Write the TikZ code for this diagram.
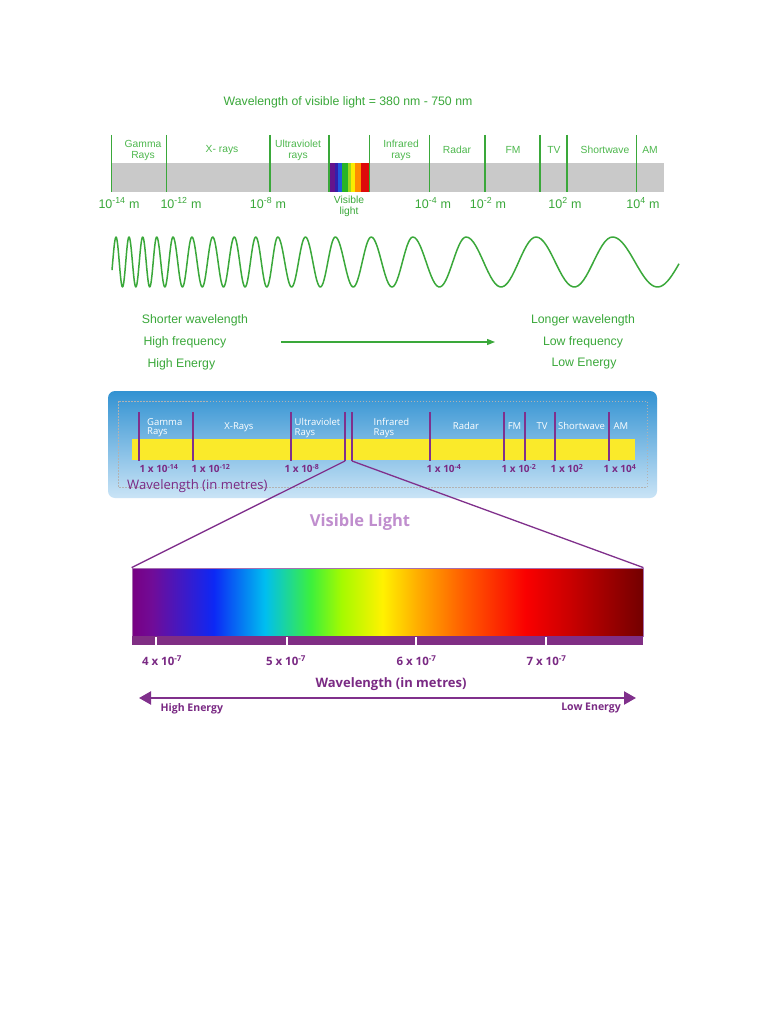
\documentclass[tikz,border=0pt]{standalone}
\usepackage{fontspec}
\setmainfont{Liberation Sans}
\newfontfamily\panelfont{Open Sans}
\usetikzlibrary{arrows.meta}

\definecolor{emgreen}{RGB}{58,168,58}
\definecolor{emlabel}{RGB}{78,184,78}
\definecolor{barback}{RGB}{201,201,201}
\definecolor{violetline}{RGB}{128,48,140}
\definecolor{violettext}{RGB}{122,42,132}
\definecolor{lilac}{RGB}{192,142,206}
\definecolor{paneltop}{RGB}{50,146,210}
\definecolor{panelbot}{RGB}{202,228,246}
\definecolor{bandyellow}{RGB}{250,234,42}
\definecolor{stripcol}{RGB}{128,46,132}
% visible strip colours
\definecolor{vsa}{RGB}{100,20,140}
\definecolor{vsb}{RGB}{52,30,170}
\definecolor{vsc}{RGB}{30,90,222}
\definecolor{vsd}{RGB}{40,180,40}
\definecolor{vse}{RGB}{160,214,30}
\definecolor{vsf}{RGB}{250,236,0}
\definecolor{vsg}{RGB}{255,140,0}
\definecolor{vsh}{RGB}{222,10,10}
% spectrum stops
\definecolor{spa}{RGB}{120,0,130}
\definecolor{spb}{RGB}{112,12,152}
\definecolor{spc}{RGB}{12,40,245}
\definecolor{spd}{RGB}{0,190,240}
\definecolor{spe}{RGB}{60,240,60}
\definecolor{spf}{RGB}{165,250,0}
\definecolor{spg}{RGB}{255,242,0}
\definecolor{sph}{RGB}{255,172,0}
\definecolor{spi}{RGB}{255,92,0}
\definecolor{spj}{RGB}{250,0,0}
\definecolor{spk}{RGB}{200,0,0}
\definecolor{spl}{RGB}{115,0,0}

\pgfdeclarehorizontalshading{spectrum}{100bp}{color(0bp)=(spa); color(25bp)=(spa);
  color(27bp)=(spb); color(33bp)=(spc); color(38bp)=(spd); color(42.5bp)=(spe);
  color(45.5bp)=(spf); color(49.5bp)=(spg); color(53bp)=(sph); color(57.5bp)=(spi);
  color(63.5bp)=(spj); color(68bp)=(spk); color(75bp)=(spl); color(100bp)=(spl)}

\begin{document}
\begin{tikzpicture}[x=1pt, y=-1pt,
    toplabel/.style={text=emlabel, font=\fontsize{10.3}{11}\selectfont, align=center, inner sep=0pt},
    topscale/.style={text=emgreen, font=\fontsize{12.5}{13}\selectfont, inner sep=0pt},
    greentext/.style={text=emgreen, font=\fontsize{12.3}{13}\selectfont, inner sep=0pt},
    divider/.style={emgreen, line width=1.4pt},
    wave/.style={emgreen, line width=1.5pt, line join=round},
    panellabel/.style={text=white, font=\panelfont\fontsize{9.5}{9.3}\selectfont, align=left, inner sep=0pt},
    panelscale/.style={text=violettext, font=\panelfont\bfseries\fontsize{10}{11}\selectfont, inner sep=0pt},
    bandline/.style={violetline, line width=1.8pt},
    zoomline/.style={violetline, line width=1.3pt},
    specscale/.style={text=violettext, font=\panelfont\bfseries\fontsize{11.5}{12}\selectfont, inner sep=0pt},
    energy/.style={text=violettext, font=\panelfont\bfseries\fontsize{10.5}{11}\selectfont, inner sep=0pt}]
    \useasboundingbox[fill=white] (0,0) rectangle (768,1024);

    % ---- green chart
    \node[greentext] (title) at (348,102) {Wavelength of visible light = 380 nm - 750 nm};
    \fill[barback] (111,163) rectangle (664,192);
    \foreach \xa/\xb/\c in {329/335/vsa, 335/338.3/vsb, 338.3/342.3/vsc, 342.3/347.7/vsd,
        347.7/350.7/vse, 350.7/355/vsf, 355/360.7/vsg, 360.7/369.5/vsh}
        \fill[\c] (\xa,163) rectangle (\xb,192);
    \foreach \px in {111.5,166.5,270,329,369.5,429.5,485,540,567,636.5}
        \draw[divider] (\px,135) -- (\px,192.5);
    \node[toplabel] (gamma) at (143,150) {Gamma\\Rays};
    \node[toplabel] (xray) at (222,150) {X- rays};
    \node[toplabel] (uv) at (298,150) {Ultraviolet\\rays};
    \node[toplabel] (ir) at (401,150) {Infrared\\rays};
    \node[toplabel] (radar) at (457,150) {Radar};
    \node[toplabel] (fm) at (513,150) {FM};
    \node[toplabel] (tv) at (554,150) {TV};
    \node[toplabel] (sw) at (605,150) {Shortwave};
    \node[toplabel] (am) at (650,150) {AM};
    \node[topscale] (la) at (119,203) {10\textsuperscript{-14} m};
    \node[topscale] (lb) at (181,203) {10\textsuperscript{-12} m};
    \node[topscale] (lc) at (268,203) {10\textsuperscript{-8} m};
    \node[toplabel, text=emgreen] (visl) at (349,206) {Visible\\light};
    \node[topscale] (ld) at (433,203) {10\textsuperscript{-4} m};
    \node[topscale] (le) at (488,203) {10\textsuperscript{-2} m};
    \node[topscale] (lf) at (565,203) {10\textsuperscript{2} m};
    \node[topscale] (lg) at (643,203) {10\textsuperscript{4} m};

    % ---- wave, one period between each pair of crests
    \draw[wave] plot[domain=112:116, samples=6] (\x,{262-25*cos(360/13.2*(\x-102.8))})
        foreach \a/\b in {116/129, 129/142.7, 142.7/156.7, 156.7/173, 173/191.9, 191.9/212.7,
            212.7/234.3, 234.3/255.8, 255.8/277.8, 277.8/305.4, 305.4/335.3, 335.3/371.2,
            371.2/412.8, 412.8/466.1, 466.1/536.1, 536.1/612.5}
        { -- plot[domain=\a:\b, samples=30] (\x,{262-25*cos(360/(\b-\a)*(\x-\a))}) }
        -- plot[domain=612.5:679, samples=30] (\x,{262-25*cos(4*(\x-612.5))});

    \node[greentext, anchor=west] (short) at (141.7,320) {Shorter wavelength};
    \node[greentext, anchor=west] (hifreq) at (143.3,342) {High frequency};
    \node[greentext, anchor=west] (hien) at (147.3,364) {High Energy};
    \node[greentext] (long) at (583,320) {Longer wavelength};
    \node[greentext] (lofreq) at (583,342) {Low frequency};
    \node[greentext] (loen) at (584,364) {Low Energy};
    \coordinate (ga) at (281,342);
    \coordinate (gb) at (495,342);
    \draw[emgreen, line width=1.2pt, -{Triangle[length=8pt,width=6pt]}] (ga) -- (gb);

    % ---- blue panel
    \shade[top color=paneltop, bottom color=panelbot, rounded corners=7pt] (108,391) rectangle (657,498);
    \draw[black!30, line width=0.4pt, dash pattern=on 1.5pt off 1.5pt] (118,401) rectangle (647,487);
    \fill[bandyellow] (132,439) rectangle (635,460);
    \foreach \px in {139,193,291,345,352,430,504,525,555,609}
        \draw[bandline] (\px,412) -- (\px,461);
    \node[panellabel, anchor=west] (pgamma) at (147,428) {Gamma\\Rays};
    \node[panellabel] (pxray) at (239,427) {X-Rays};
    \node[panellabel, anchor=west] (puv) at (294.5,428) {Ultraviolet\\Rays};
    \node[panellabel, anchor=west] (pir) at (373.5,428) {Infrared\\Rays};
    \node[panellabel] (pradar) at (466,426) {Radar};
    \node[panellabel] (pfm) at (514.5,426) {FM};
    \node[panellabel] (ptv) at (542,426) {TV};
    \node[panellabel] (psw) at (581.5,426) {Shortwave};
    \node[panellabel] (pam) at (621,426) {AM};
    \node[panelscale] (pa) at (159,468.5) {1 x 10\textsuperscript{-14}};
    \node[panelscale] (pb) at (211,468.5) {1 x 10\textsuperscript{-12}};
    \node[panelscale] (pc) at (302,468.5) {1 x 10\textsuperscript{-8}};
    \node[panelscale] (pd) at (444,468.5) {1 x 10\textsuperscript{-4}};
    \node[panelscale] (pe) at (519,468.5) {1 x 10\textsuperscript{-2}};
    \node[panelscale] (pf) at (567,468.5) {1 x 10\textsuperscript{2}};
    \node[panelscale] (pg) at (620,468.5) {1 x 10\textsuperscript{4}};
    \node[text=violettext, font=\panelfont\fontsize{13.1}{13}\selectfont, anchor=west, inner sep=0pt]
        (pwave) at (127,486) {Wavelength (in metres)};

    % ---- visible light close-up
    \node[text=lilac, font=\panelfont\bfseries\fontsize{16.5}{17}\selectfont, inner sep=0pt]
        (vislight) at (360,522) {Visible Light};
    \node[shading=spectrum, draw=violetline!70, line width=0.8pt, inner sep=0pt,
        minimum width=511pt, minimum height=68pt] (spec) at (387.5,602) {};
    \fill[stripcol] (spec.south west) rectangle ++(511,9);
    \foreach \px in {156,286.7,416,545.6}
        \draw[white, line width=1.8pt] (\px,637) -- (\px,645);
    \coordinate (zl) at (345,461);
    \coordinate (zr) at (352,461);
    \draw[zoomline] (zl) -- (spec.north west);
    \draw[zoomline] (zr) -- (spec.north east);
    \node[specscale] (sa) at (162,661) {4 x 10\textsuperscript{-7}};
    \node[specscale] (sb) at (286,661) {5 x 10\textsuperscript{-7}};
    \node[specscale] (sc) at (416.5,661) {6 x 10\textsuperscript{-7}};
    \node[specscale] (sd) at (546.5,661) {7 x 10\textsuperscript{-7}};
    \node[text=violettext, font=\panelfont\bfseries\fontsize{13}{14}\selectfont, inner sep=0pt]
        (swave) at (391,684) {Wavelength (in metres)};
    \coordinate (ea) at (139,698);
    \coordinate (eb) at (636,698);
    \draw[violetline, line width=2.2pt, {Triangle[length=12pt,width=13pt]}-{Triangle[length=12pt,width=13pt]}] (ea) -- (eb);
    \node[energy, anchor=west] (hi) at (160.5,708.5) {High Energy};
    \node[energy, anchor=east] (lo) at (621,708.5) {Low Energy};
\end{tikzpicture}
\end{document}
